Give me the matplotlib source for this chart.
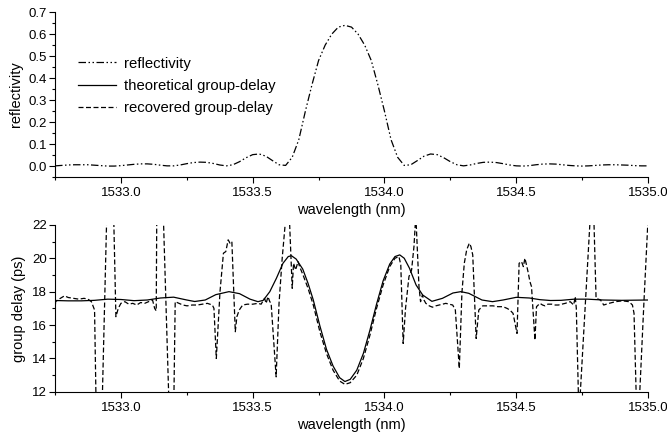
import numpy as np
import matplotlib
matplotlib.use('Agg')
import matplotlib.pyplot as plt

plt.rcParams['font.family'] = ['Liberation Sans', 'DejaVu Sans']

# reflectivity spectrum
wl_refl = [1532.750, 1532.775, 1532.800, 1532.825, 1532.850, 1532.875, 1532.900, 1532.925,
           1532.950, 1532.975, 1533.000, 1533.025, 1533.050, 1533.075, 1533.100, 1533.125,
           1533.150, 1533.175, 1533.200, 1533.225, 1533.250, 1533.275, 1533.300, 1533.325,
           1533.350, 1533.375, 1533.400, 1533.425, 1533.450, 1533.475, 1533.500, 1533.525,
           1533.550, 1533.575, 1533.600, 1533.625, 1533.650, 1533.675, 1533.700, 1533.725,
           1533.750, 1533.775, 1533.800, 1533.825, 1533.850, 1533.875, 1533.900, 1533.925,
           1533.950, 1533.975, 1534.000, 1534.025, 1534.050, 1534.075, 1534.100, 1534.125,
           1534.150, 1534.175, 1534.200, 1534.225, 1534.250, 1534.275, 1534.300, 1534.325,
           1534.350, 1534.375, 1534.400, 1534.425, 1534.450, 1534.475, 1534.500, 1534.525,
           1534.550, 1534.575, 1534.600, 1534.625, 1534.650, 1534.675, 1534.700, 1534.725,
           1534.750, 1534.775, 1534.800, 1534.825, 1534.850, 1534.875, 1534.900, 1534.925,
           1534.950, 1534.975, 1535.000]
refl = [0.001, 0.003, 0.005, 0.006, 0.006, 0.006, 0.004, 0.002,
        0.000, 0.000, 0.002, 0.005, 0.008, 0.010, 0.010, 0.008,
        0.004, 0.001, 0.001, 0.005, 0.011, 0.016, 0.018, 0.017,
        0.012, 0.005, 0.001, 0.006, 0.020, 0.038, 0.052, 0.055,
        0.045, 0.025, 0.006, 0.003, 0.040, 0.120, 0.250, 0.370,
        0.480, 0.550, 0.600, 0.632, 0.640, 0.632, 0.600, 0.550,
        0.480, 0.370, 0.250, 0.120, 0.040, 0.003, 0.006, 0.025,
        0.045, 0.055, 0.052, 0.038, 0.020, 0.006, 0.001, 0.005,
        0.012, 0.017, 0.018, 0.016, 0.011, 0.005, 0.001, 0.000,
        0.002, 0.006, 0.009, 0.010, 0.009, 0.006, 0.003, 0.001,
        0.000, 0.001, 0.003, 0.005, 0.006, 0.006, 0.005, 0.004,
        0.002, 0.001, 0.001]

# theoretical group delay
wl_theo = [1532.750, 1532.800, 1532.850, 1532.900, 1532.950, 1533.000, 1533.050, 1533.100,
           1533.150, 1533.200, 1533.250, 1533.280, 1533.320, 1533.360, 1533.410, 1533.450,
           1533.490, 1533.520, 1533.540, 1533.565, 1533.590, 1533.615, 1533.635, 1533.647,
           1533.665, 1533.690, 1533.710, 1533.730, 1533.755, 1533.780, 1533.805, 1533.830,
           1533.850, 1533.870, 1533.895, 1533.920, 1533.945, 1533.970, 1533.995, 1534.020,
           1534.040, 1534.058, 1534.075, 1534.095, 1534.120, 1534.145, 1534.180, 1534.220,
           1534.260, 1534.290, 1534.320, 1534.370, 1534.410, 1534.450, 1534.500, 1534.550,
           1534.590, 1534.630, 1534.670, 1534.720, 1534.770, 1534.830, 1534.900, 1534.950,
           1535.000]
gd_theo = [17.47, 17.45, 17.45, 17.48, 17.55, 17.53, 17.46, 17.50,
           17.62, 17.67, 17.50, 17.41, 17.50, 17.82, 18.00, 17.88,
           17.55, 17.40, 17.48, 18.00, 18.80, 19.70, 20.10, 20.15,
           19.95, 19.35, 18.50, 17.50, 15.95, 14.55, 13.55, 12.85,
           12.62, 12.75, 13.30, 14.30, 15.70, 17.25, 18.65, 19.65,
           20.10, 20.20, 20.00, 19.40, 18.40, 17.80, 17.42, 17.60,
           17.92, 18.00, 17.90, 17.50, 17.40, 17.50, 17.66, 17.62,
           17.52, 17.47, 17.48, 17.55, 17.55, 17.50, 17.48, 17.49,
           17.50]

# recovered group delay
wl_rec = [1532.748, 1532.752, 1532.765, 1532.786, 1532.800, 1532.820, 1532.840, 1532.860,
          1532.875, 1532.888, 1532.900, 1532.915, 1532.960, 1532.981, 1532.990, 1533.000,
          1533.015, 1533.030, 1533.045, 1533.060, 1533.075, 1533.090, 1533.105, 1533.120,
          1533.128, 1533.134, 1533.140, 1533.195, 1533.206, 1533.220, 1533.235, 1533.251,
          1533.270, 1533.290, 1533.310, 1533.328, 1533.347, 1533.353, 1533.362, 1533.376,
          1533.389, 1533.398, 1533.407, 1533.414, 1533.421, 1533.434, 1533.440, 1533.449,
          1533.462, 1533.480, 1533.500, 1533.520, 1533.532, 1533.545, 1533.551, 1533.558,
          1533.565, 1533.570, 1533.589, 1533.600, 1533.612, 1533.622, 1533.634, 1533.650,
          1533.655, 1533.663, 1533.672, 1533.678, 1533.691, 1533.710, 1533.730, 1533.755,
          1533.780, 1533.805, 1533.830, 1533.850, 1533.870, 1533.895, 1533.920, 1533.945,
          1533.970, 1533.995, 1534.020, 1534.040, 1534.055, 1534.062, 1534.071, 1534.080,
          1534.093, 1534.103, 1534.112, 1534.119, 1534.131, 1534.137, 1534.144, 1534.150,
          1534.157, 1534.170, 1534.182, 1534.195, 1534.208, 1534.220, 1534.233, 1534.245,
          1534.259, 1534.269, 1534.284, 1534.294, 1534.303, 1534.312, 1534.322, 1534.328,
          1534.335, 1534.348, 1534.358, 1534.373, 1534.390, 1534.412, 1534.430, 1534.450,
          1534.465, 1534.476, 1534.488, 1534.503, 1534.511, 1534.520, 1534.527, 1534.533,
          1534.539, 1534.546, 1534.552, 1534.558, 1534.571, 1534.577, 1534.590, 1534.600,
          1534.609, 1534.620, 1534.635, 1534.648, 1534.660, 1534.673, 1534.686, 1534.705,
          1534.718, 1534.724, 1534.728, 1534.738, 1534.790, 1534.803, 1534.820, 1534.832,
          1534.852, 1534.877, 1534.903, 1534.928, 1534.941, 1534.947, 1534.960, 1534.985,
          1535.000]
gd_rec = [15.9, 17.4, 17.55, 17.75, 17.65, 17.6, 17.55, 17.6,
          17.55, 17.4, 16.9, 2.25, 31.5, 16.5, 17.0, 17.3,
          17.4, 17.25, 17.3, 17.2, 17.35, 17.3, 17.4, 17.5,
          17.0, 16.85, 33.6, 4.6, 17.4, 17.3, 17.2, 17.15,
          17.2, 17.2, 17.25, 17.3, 17.2, 17.0, 14.0, 18.0,
          20.3, 20.4, 21.1, 20.9, 21.0, 15.6, 16.5, 16.9,
          17.2, 17.25, 17.25, 17.3, 17.25, 17.6, 17.3, 17.7,
          17.4, 17.3, 12.9, 17.3, 20.0, 21.8, 24.5, 18.2,
          19.7, 19.3, 19.8, 19.5, 19.0, 18.2, 17.2, 15.6,
          14.3, 13.3, 12.65, 12.45, 12.55, 13.0, 14.0, 15.4,
          17.0, 18.4, 19.5, 20.0, 20.1, 19.6, 14.9, 17.0,
          18.9, 19.3, 20.7, 22.6, 18.3, 17.4, 17.8, 17.5,
          17.3, 17.15, 17.07, 17.15, 17.2, 17.25, 17.3, 17.25,
          17.2, 16.9, 13.4, 17.95, 19.7, 20.5, 20.9, 20.7,
          20.2, 15.2, 16.9, 17.15, 17.15, 17.15, 17.1, 17.1,
          17.0, 16.9, 16.7, 15.5, 19.7, 19.8, 19.5, 20.0,
          19.6, 19.1, 18.6, 18.3, 15.1, 17.1, 17.3, 17.2,
          17.15, 17.25, 17.25, 17.2, 17.2, 17.25, 17.3, 17.4,
          17.2, 17.7, 17.0, 10.5, 25.0, 17.6, 17.5, 17.2,
          17.3, 17.4, 17.45, 17.4, 17.2, 16.7, 9.0, 17.5,
          22.3]

fig = plt.figure(figsize=(6.67, 4.34), dpi=100)
ax1 = fig.add_axes([0.0825, 0.592, 0.889, 0.380])
ax2 = fig.add_axes([0.0825, 0.097, 0.889, 0.385])

l_refl, = ax1.plot(wl_refl, refl, color='black', lw=0.9,
                   linestyle=(0, (6, 2, 1.2, 2, 1.2, 2)))
l_theo, = ax2.plot(wl_theo, gd_theo, color='black', lw=0.9, linestyle='-')
l_rec, = ax2.plot(wl_rec, gd_rec, color='black', lw=0.9, linestyle=(0, (4, 2)))

ax1.set_xlim(1532.75, 1535.0)
ax1.set_ylim(-0.05, 0.7)
ax1.set_yticks(np.arange(0, 0.71, 0.1))
ax1.set_yticks(np.arange(-0.05, 0.7, 0.1), minor=True)
ax1.set_ylabel('reflectivity', fontsize=10.5, labelpad=4)

ax2.set_xlim(1532.75, 1535.0)
ax2.set_ylim(12, 22)
ax2.set_yticks(np.arange(12, 23, 2))
ax2.set_yticks(np.arange(13, 22, 2), minor=True)
ax2.set_ylabel('group delay (ps)', fontsize=10.5, labelpad=4)

for ax in (ax1, ax2):
    ax.set_xticks([1533.0, 1533.5, 1534.0, 1534.5, 1535.0])
    ax.set_xticks([1532.75, 1533.25, 1533.75, 1534.25, 1534.75], minor=True)
    ax.set_xticklabels(['1533.0', '1533.5', '1534.0', '1534.5', '1535.0'])
    ax.set_xlabel('wavelength (nm)', fontsize=10.5, labelpad=3)
    ax.spines['top'].set_visible(False)
    ax.spines['right'].set_visible(False)
    ax.spines['left'].set_linewidth(0.8)
    ax.spines['bottom'].set_linewidth(0.8)
    ax.tick_params(which='major', direction='out', length=4, width=0.8, labelsize=9.5)
    ax.tick_params(which='minor', direction='out', length=2.5, width=0.8)
    ax.tick_params(axis='x', which='major', pad=3)
    ax.tick_params(axis='y', which='major', pad=2)

ax1.legend([l_refl, l_theo, l_rec],
           ['reflectivity', 'theoretical group-delay', 'recovered group-delay'],
           loc='upper left', bbox_to_anchor=(0.028, 0.766), frameon=False,
           fontsize=10.7, handlelength=2.6, handletextpad=0.55, labelspacing=0.55,
           borderaxespad=0)

fig.savefig('out.png', dpi=100)
